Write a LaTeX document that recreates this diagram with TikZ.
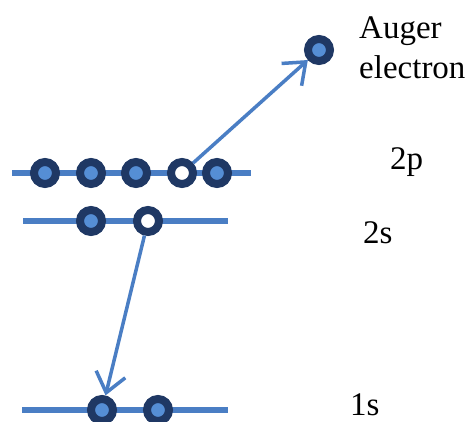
\documentclass[tikz,border=0pt]{standalone}
\usepackage{fontspec}
\setmainfont{Liberation Serif}
\usetikzlibrary{arrows.meta,positioning}
\definecolor{lvl}{HTML}{4A7EC4}
\definecolor{edark}{HTML}{1F3864}
\definecolor{elite}{HTML}{558ED5}
\tikzset{
  lvlline/.style={line width=6pt,color=lvl},
  elec/.style={circle,draw=edark,fill=elite,line width=8pt,minimum size=22pt,inner sep=0pt},
  hole/.style={elec,fill=white},
  jump/.style={-{Straight Barb[length=19pt,width=30pt,line width=3.5pt]},line width=3.5pt,color=lvl},
  lbl/.style={font=\fontsize{33}{40}\selectfont,text=black,inner sep=0pt}
}
\begin{document}
\begin{tikzpicture}[x=1pt,y=-1pt]
  \useasboundingbox (0,0) rectangle (474,421);
  % energy levels
  \coordinate (p2a) at (12,173);  \coordinate (p2b) at (251,173);
  \coordinate (s2a) at (23,221);  \coordinate (s2b) at (228,221);
  \coordinate (s1a) at (22,410);  \coordinate (s1b) at (228,410);
  \draw[lvlline] (p2a) -- (p2b);
  \draw[lvlline] (s2a) -- (s2b);
  \draw[lvlline] (s1a) -- (s1b);
  % electrons
  \foreach \n/\x in {1/45,2/91,3/136,5/217}{%
    \node[elec] (p\n) at (\x,173) {};}
  \node[hole] (p4) at (182,173) {};
  \node[elec] (s1) at (91,221) {};
  \node[hole] (s2) at (148,221) {};
  \node[elec] (k1) at (102,410) {};
  \node[elec] (k2) at (158,410) {};
  \node[elec] (aug) at (319,50) {};
  % transitions
  \draw[jump] (p4) -- (aug);
  \draw[jump] (s2) -- (k1);
  % labels
  \node[lbl,anchor=base west,align=left] (taug) at (359,78) {Auger\\electron};
  \node[lbl,anchor=base west] (t2p) at (390,169) {2p};
  \node[lbl,anchor=base west] (t2s) at (363,243) {2s};
  \node[lbl,anchor=base west] (t1s) at (350,415) {1s};
\end{tikzpicture}
\end{document}
